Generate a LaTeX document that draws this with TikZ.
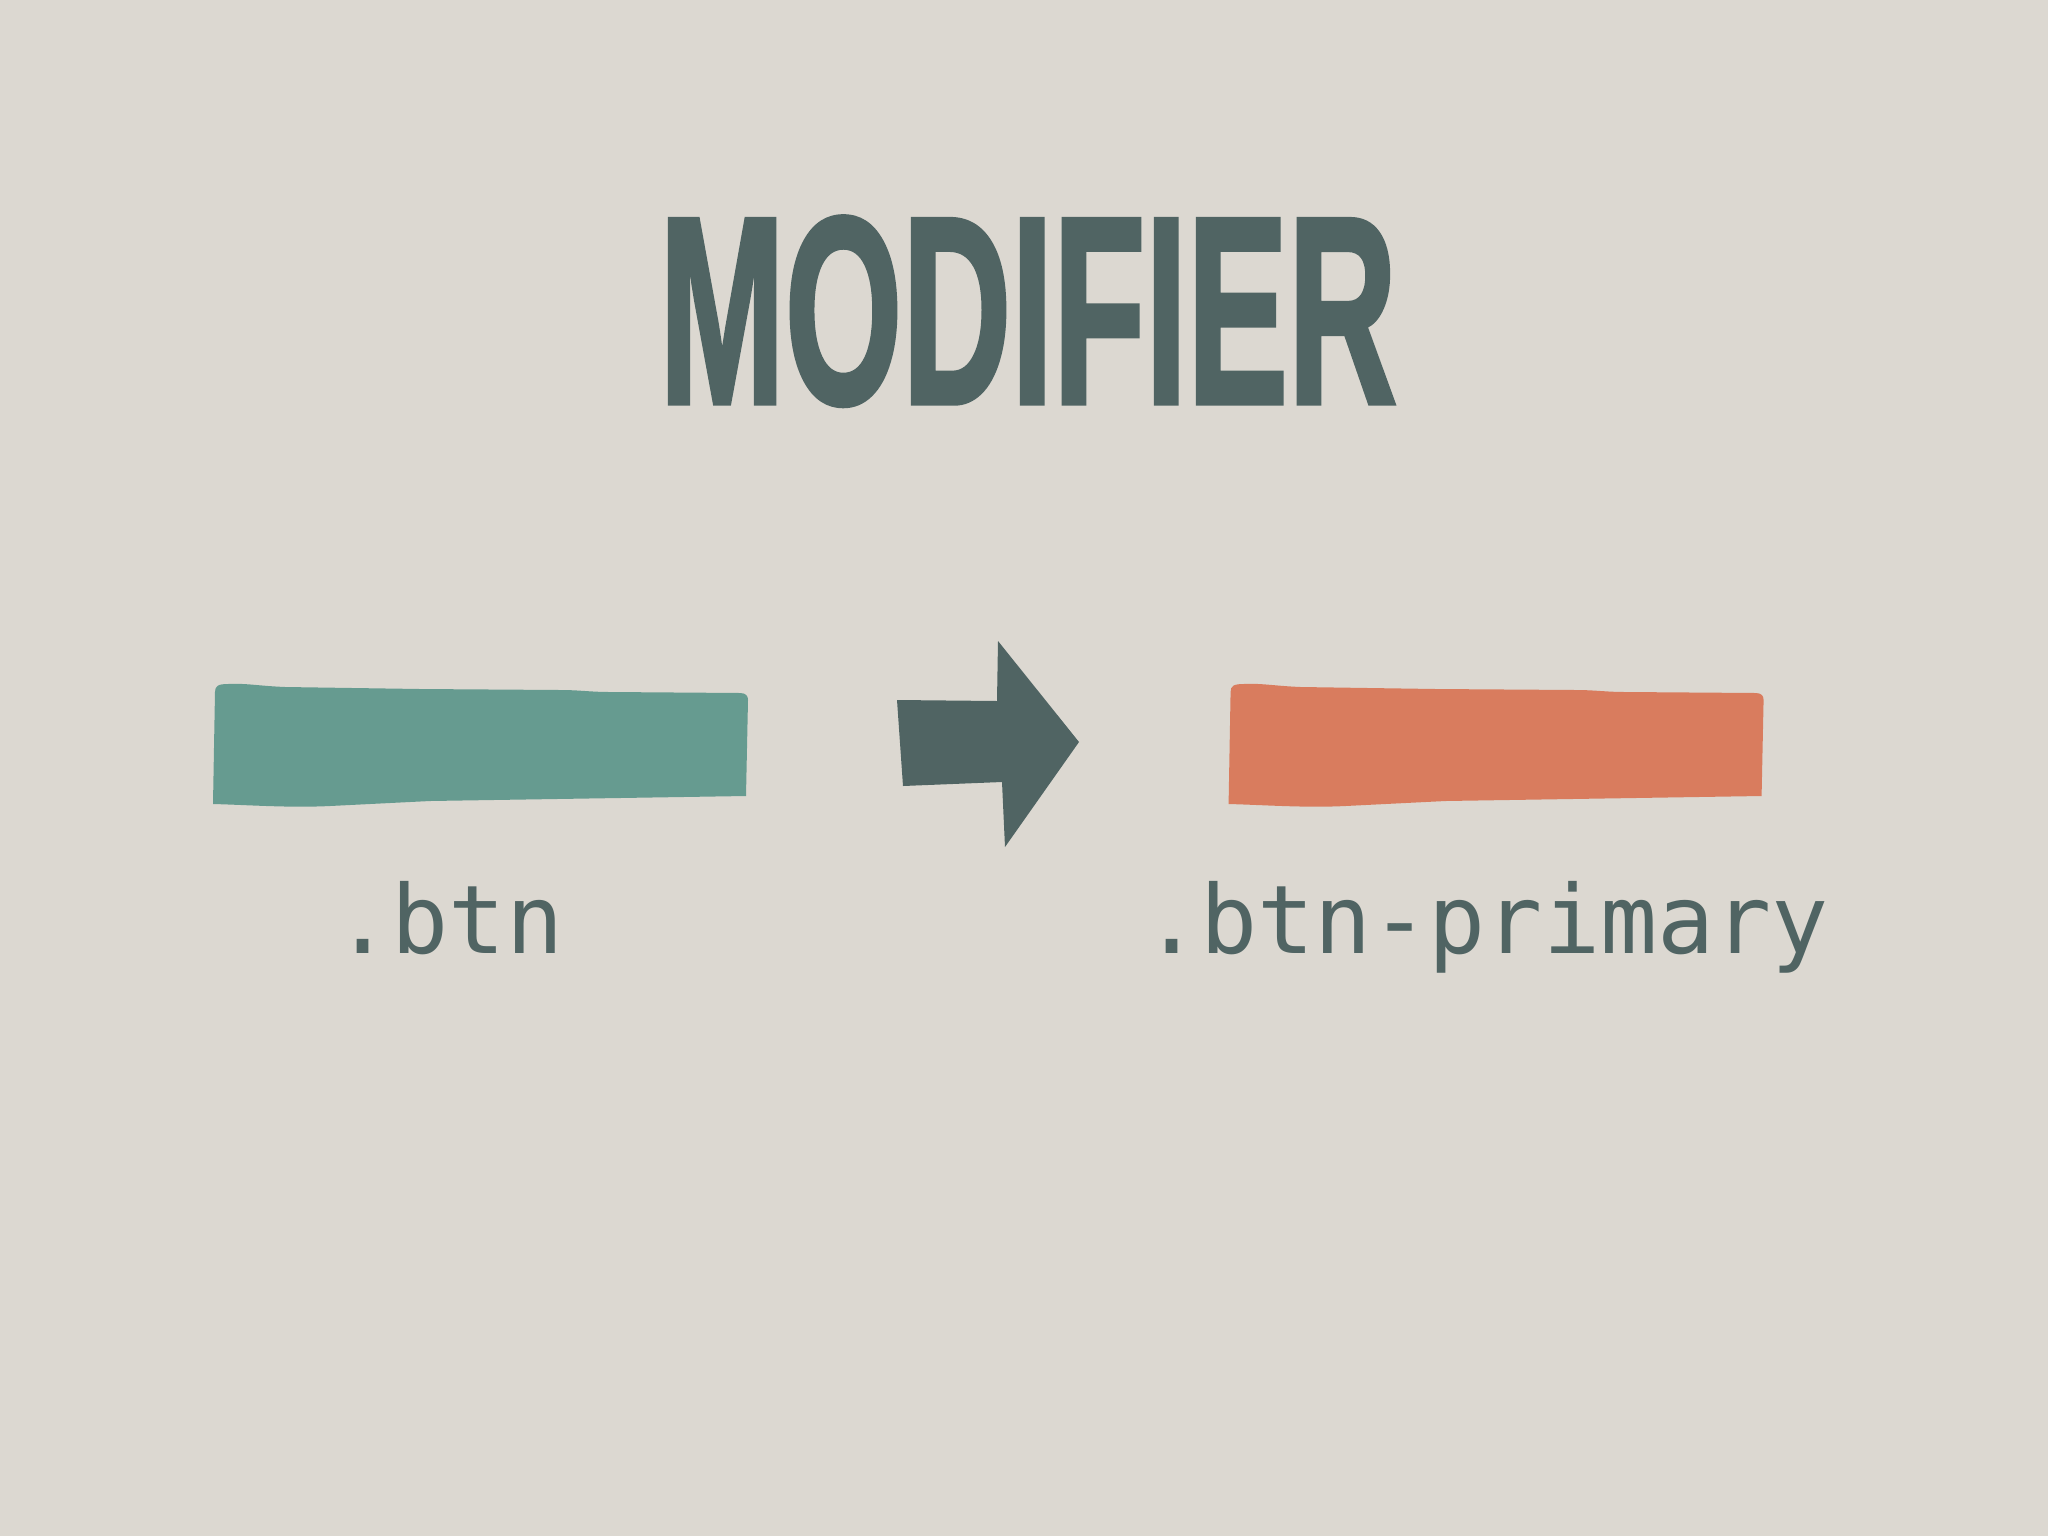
\documentclass[tikz,border=0pt]{standalone}
\usepackage{fontspec}
\usepackage{graphicx}
\newfontfamily\titlefont[FakeBold=2]{Liberation Sans}
\newfontfamily\codefont{DejaVu Sans Mono}
\definecolor{paper}{HTML}{DCD8D1}
\definecolor{slate}{HTML}{506463}
\definecolor{tealbar}{HTML}{669B90}
\definecolor{orangebar}{HTML}{D97C5E}

\newcommand{\brushbar}[1]{%
  \fill[#1] (215,692) .. controls (215,686) and (218,684) .. (228,684)
    .. controls (245,683) and (260,686) .. (285,687) -- (420,689) -- (560,690)
    .. controls (580,690) and (590,692) .. (610,692) -- (740,693)
    .. controls (746,693) and (748,696) .. (748,700)
    -- (746,796) -- (620,798) -- (430,801) -- (330,806)
    .. controls (290,808) and (250,805) .. (213,804) -- cycle;}

\begin{document}
\begin{tikzpicture}[x=0.01cm,y=-0.01cm]
      \fill[paper] (0,0) rectangle (2048,1536);
      \node[anchor=base, inner sep=0, text=slate] (title) at (1028,403)
        {\resizebox{7.37cm}{1.86cm}{\titlefont\bfseries MODIFIER}};
      % the two bars
      \brushbar{tealbar}
      \begin{scope}[xshift=10.15cm]
        \brushbar{orangebar}
      \end{scope}
      % arrow in between
      \fill[slate] (897,700) -- (997,701) -- (998,641) -- (1079,742)
        -- (1005,847) -- (1002,782) -- (903,786) -- cycle;
      \node[anchor=base, inner sep=0, text=slate, font=\codefont\fontsize{27}{32}\selectfont] (base) at (449,953) {.btn};
      \node[anchor=base, inner sep=0, text=slate, font=\codefont\fontsize{27}{32}\selectfont] (mod) at (1486,953) {.btn-primary};
    \end{tikzpicture}
\end{document}
